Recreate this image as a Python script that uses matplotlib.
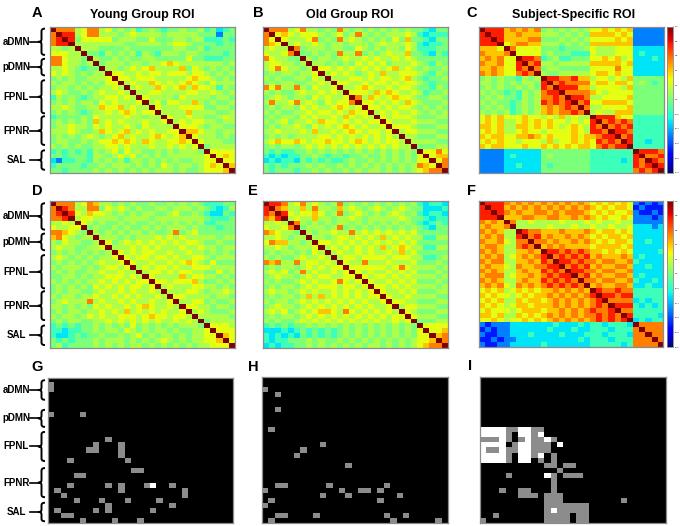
import numpy as np
import matplotlib
matplotlib.use("Agg")
import matplotlib.pyplot as plt
from matplotlib.colors import ListedColormap
from matplotlib.lines import Line2D

plt.rcParams['font.family'] = ['Liberation Sans', 'DejaVu Sans']

# correlation level codes (digit -> r value)
LEVELS = [-0.7, -0.5, -0.3, -0.15, 0.0, 0.12, 0.25, 0.4, 0.55, 0.75]
NETWORKS = ["aDMN", "pDMN", "FPNL", "FPNR", "SAL"]
TITLES = ["Young Group ROI", "Old Group ROI", "Subject-Specific ROI"]
LETTERS = list("ABCDEFGHI")
CBAR_TICKS = [-1, -0.8, -0.6, -0.4, -0.2, 0, 0.2, 0.4, 0.6, 0.8, 1]

# lower triangles (row i holds columns 0..i-1), groups separated by spaces
A_ROWS = [
    "8", "89", "899", "5545", "6665 5", "8865 54", "8865 54 5", "5565 43 44",
    "6565 45 455", "4545 44 5556", "5455 45 4546 6", "4554 54 5455 65",
    "5654 45 4565 565", "3545 43 4556 6565", "4545 45 5465 65556",
    "5565 44 5576 675655", "4545 43 4556 5676566", "3444 45 4655 55655455",
    "4545 45 4756 56555655 6", "4556 55 4656 55654655 55",
    "5556 54 4576 56756565 566", "4545 45 6545 67565567 6567",
    "4554 45 4566 76765765 56676", "5454 54 4556 65655565 565656",
    "3434 34 3545 64655445 4545554", "4434 44 3554 56564545 4555555 6",
    "2133 44 3545 45355454 5454455 66", "3444 43 4454 55545454 6545545 676",
    "4434 44 4545 45454545 5545445 6667",
]
B_ROWS = [
    "8", "86", "876", "5655", "6556 8", "8655 44", "5665 54 5", "5686 55 45",
    "4545 54 556", "5454 45 5465", "4545 54 4556 5", "8685 58 5465 56",
    "5454 45 6556 565", "4565 45 5465 6556", "5855 68 5654 65668",
    "4545 54 6565 567656", "5454 45 5656 6565766", "4545 54 6565 56576565",
    "5456 45 5657 66565656 6", "4545 56 5465 65676565 56",
    "5565 55 6575 56567656 656", "4545 45 5556 65656565 6565",
    "5676 67 6566 76656765 65665", "4545 54 5656 56565656 565655",
    "4343 34 4545 45454545 4545454", "3232 33 4454 34434454 4545454 6",
    "2323 32 4343 43345445 4545454 66", "4343 44 4545 44545454 5454545 876",
    "4344 43 4454 54454545 5454545 6788",
]
C_ROWS = [
    "9", "99", "999", "7776", "8777 8", "7878 66", "8778 66 9", "7787 66 98",
    "8787 66 898", "4545 44 3545", "5545 45 4554 9", "4545 44 5454 98",
    "5454 34 3545 899", "4545 44 3545 8898", "5454 43 4545 98989",
    "4545 43 4545 787898", "5454 53 4545 7878898", "6767 66 6766 56575655",
    "6767 55 6767 67665656 9", "7767 55 7767 67656765 98",
    "6767 55 6766 56666765 998", "7677 66 7787 67666767 7899",
    "6767 66 5666 57566767 69898", "7677 66 6766 76767677 689899",
    "1111 22 2222 44444444 3333333", "1111 23 2222 45444444 3333333 9",
    "1111 22 2222 44444444 3333323 98", "1111 22 3222 43444444 3333333 989",
    "1111 22 2222 44444444 3333333 8989",
]
D_ROWS = [
    "8", "89", "889", "5565", "6556 6", "8876 54", "7865 45 5", "5465 54 45",
    "5655 44 556", "4545 45 4545", "5654 54 5455 6", "4545 45 4565 56",
    "5455 54 5456 656", "4545 44 5565 5655", "4455 45 4556 66565",
    "5454 54 5565 656566", "4545 45 4656 5656656", "4545 54 4565 56565565",
    "5455 45 5655 65656556 5", "4565 55 8565 56565565 56",
    "5545 45 4656 55656765 565", "4545 54 5565 65756565 6556",
    "5455 45 6565 56665676 65665", "4545 54 4556 56565656 556565",
    "3434 34 4545 45464545 4545554", "3323 34 4545 54654545 5454455 6",
    "3223 43 4454 45456454 5545455 66", "4343 44 4545 55454545 6545455 667",
    "4534 44 4545 45455454 5454545 5666",
]
E_ROWS = [
    "9", "98", "879", "5565", "6556 8", "8765 54", "5565 45 5", "6877 55 45",
    "5565 45 556", "4545 54 5465", "5454 45 6556 5", "8785 58 5665 65",
    "4545 54 5656 566", "5656 45 8565 5656", "4565 54 5656 65566",
    "5454 45 6565 568656", "4545 54 5656 6656656", "5655 45 6565 56565656",
    "4545 54 5757 56565656 6", "5455 45 6565 65656565 56",
    "4565 54 5656 56565656 556", "5656 45 6567 76586565 6565",
    "4545 54 5656 56565656 56566", "5454 45 6565 65656565 655656",
    "3434 34 4545 45454545 4545454", "2223 23 4343 43454545 4545454 6",
    "3232 32 4343 43454545 4545454 66", "3233 44 4545 44545454 5454545 667",
    "2323 34 4545 45454545 5454545 6788",
]
F_ROWS = [
    "9", "99", "999", "8787", "7877 8", "8787 55", "7878 55 9", "8778 65 88",
    "7887 55 898", "8787 55 7787", "7878 56 7878 9", "8788 55 7787 98",
    "7877 65 8778 899", "8787 55 7877 9898", "7888 56 7787 89899",
    "8787 55 7877 989898", "7878 65 8787 8989898", "6767 56 7676 77878787",
    "7676 65 6767 78787878 9", "6767 55 7677 67878787 89",
    "7676 56 7767 77878787 898", "6766 65 6777 67787878 9889",
    "7767 55 7676 78787878 89898", "6676 56 6767 67878787 898989",
    "1011 12 2222 22322232 3323332", "0101 12 2222 23222322 3332333 8",
    "1001 12 2232 22232223 3323332 88", "0010 11 2222 22222232 3332333 888",
    "1001 12 2222 32222222 3333323 8888",
]

# significance maps (29 x 29): gray = 1, white = 2
G_GRAY = [(1, 0), (2, 0), (7, 0), (7, 5), (12, 9), (13, 7), (14, 6), (14, 7),
          (13, 11), (14, 11), (15, 11), (16, 3), (16, 12), (18, 13), (18, 14),
          (19, 4), (19, 5), (21, 3), (21, 9), (21, 11), (22, 11), (21, 15),
          (21, 19), (22, 1), (22, 21), (23, 21), (23, 2), (24, 4), (24, 8),
          (24, 12), (24, 17), (25, 9), (26, 9), (25, 19), (26, 1), (26, 7),
          (26, 16), (27, 2), (27, 3), (28, 5), (28, 10), (28, 14)]
G_WHITE = [(21, 16)]
H_GRAY = [(2, 0), (3, 2), (6, 2), (10, 1), (13, 9), (14, 6), (15, 5), (17, 13),
          (21, 2), (21, 3), (21, 10), (21, 19), (22, 0), (22, 12), (22, 15),
          (22, 16), (22, 18), (23, 9), (23, 13), (23, 21), (24, 1), (24, 18),
          (25, 0), (27, 2), (27, 3), (27, 8), (27, 19), (27, 22), (28, 1),
          (28, 20), (28, 27)]
H_WHITE = []
I_FIRST_ROW = 10
I_ROWS = [
    "2222112211", "2222102212", "111210121121", "2222012211102",
    "21121122111", "222210221201", "222210220101", "000000000011011",
    "0000000000001", "0000100000210111", "000000000001", "000000000001",
    "000100110001", "0000001110111", "00000000001110000000001",
    "00000000001111111", "00000000001211111", "00100000001111011",
    "10000000001111011",
]
N_SIG = 29


def corr_matrix(rows):
    n = len(rows) + 1
    m = np.eye(n)
    for i, s in enumerate(rows, start=1):
        s = s.replace(" ", "")
        if len(s) != i:
            raise ValueError(f"row {i}: {s}")
        for j, ch in enumerate(s):
            m[i, j] = m[j, i] = LEVELS[int(ch)]
    return m


def sig_from_lists(gray, white):
    m = np.zeros((N_SIG, N_SIG))
    for r, c in gray:
        m[r, c] = 1
    for r, c in white:
        m[r, c] = 2
    return m


def sig_from_rows(rows, first):
    m = np.zeros((N_SIG, N_SIG))
    for k, s in enumerate(rows):
        for j, ch in enumerate(s):
            m[first + k, j] = int(ch)
    return m


W, H = 680, 526
fig = plt.figure(figsize=(W / 100, H / 100), dpi=100)
fig.patch.set_facecolor("white")


def add_ax(box):
    x0, y0, x1, y1 = box
    return fig.add_axes([x0 / W, 1 - y1 / H, (x1 - x0) / W, (y1 - y0) / H])


FRAME = "#8c8c8c"


def style(ax):
    ax.set_xticks([])
    ax.set_yticks([])
    for s in ax.spines.values():
        s.set_color(FRAME)
        s.set_linewidth(0.9)


def quad(p0, p1, p2, n=8):
    t = np.linspace(0, 1, n)[:, None]
    p0, p1, p2 = map(np.asarray, (p0, p1, p2))
    return (1 - t) ** 2 * p0 + 2 * (1 - t) * t * p1 + t ** 2 * p2


def brackets(box, nrows, spans):
    """Curly braces with a left dash and a label, drawn in figure pixels."""
    _, y0, _, y1 = box
    ph = (y1 - y0) / nrows
    xv, xh, xc, r = 41.5, 45.0, 38.5, 2.6
    for name, (a, b) in zip(NETWORKS, spans):
        ya, yb = y0 + a * ph, y0 + b * ph
        ym = (ya + yb) / 2
        pts = np.vstack([
            quad((xh, ya), (xv, ya), (xv, ya + r)),
            quad((xv, ym - r), (xv, ym), (xc, ym)),
            quad((xc, ym), (xv, ym), (xv, ym + r)),
            quad((xv, yb - r), (xv, yb), (xh, yb)),
        ])
        fig.add_artist(Line2D(pts[:, 0] / W, 1 - pts[:, 1] / H,
                              transform=fig.transFigure, color="black",
                              lw=1.4, solid_capstyle="butt"))
        fig.add_artist(Line2D([29.5 / W, xc / W], [1 - ym / H, 1 - ym / H],
                              transform=fig.transFigure, color="black", lw=1.2))
        fig.text(16.5 / W, 1 - ym / H, name, ha="center", va="center",
                 fontsize=7, fontweight="bold")


corr_sets = [A_ROWS, B_ROWS, C_ROWS, D_ROWS, E_ROWS, F_ROWS]
corr_boxes = [(50, 26.7, 235, 172.7), (263.3, 26.7, 447.7, 172.7),
              (479, 26.7, 664, 172.7), (50, 201.3, 235, 348),
              (263.3, 201, 447.7, 347.7), (479, 201, 663, 347)]
cbar_boxes = {2: (667.3, 26.7, 673.3, 172.7), 5: (667.3, 201, 673.3, 347)}
spans_corr = [(0.4, 5.8), (6.6, 10.0), (11.0, 17.8), (18.4, 24.3), (25.4, 29.4)]

for k, (rows, box) in enumerate(zip(corr_sets, corr_boxes)):
    ax = add_ax(box)
    mat = corr_matrix(rows)
    im = ax.imshow(mat, cmap="jet", vmin=-1, vmax=1,
                   aspect="auto", interpolation="nearest")
    style(ax)
    if k in (0, 3):
        brackets(box, mat.shape[0], spans_corr)
    if k in cbar_boxes:
        cax = add_ax(cbar_boxes[k])
        cb = fig.colorbar(im, cax=cax, ticks=CBAR_TICKS)
        cb.ax.tick_params(labelsize=1.7, length=0.8, width=0.3, pad=0.3)
        cb.outline.set_edgecolor(FRAME)
        cb.outline.set_linewidth(0.6)

sig_cmap = ListedColormap(["black", "#8c8c8c", "white"])
sig_mats = [sig_from_lists(G_GRAY, G_WHITE), sig_from_lists(H_GRAY, H_WHITE),
            sig_from_rows(I_ROWS, I_FIRST_ROW)]
sig_boxes = [(48.3, 377.7, 233.3, 523.3), (262.3, 377.3, 448.3, 523.3),
             (480, 377.3, 665.7, 523.3)]
spans_sig = [(0.5, 4.4), (6.4, 9.8), (10.8, 16.6), (18.0, 23.8), (24.9, 28.6)]
for k, (m, box) in enumerate(zip(sig_mats, sig_boxes)):
    ax = add_ax(box)
    ax.imshow(m, cmap=sig_cmap, vmin=0, vmax=2, aspect="auto",
              interpolation="nearest")
    style(ax)
    if k == 0:
        brackets(box, N_SIG, spans_sig)

# titles
for t, cx in zip(TITLES, [142, 350, 574]):
    fig.text(cx / W, 1 - 15 / H, t, ha="center", va="center", fontsize=9,
             fontweight="bold")

letter_pos = [(37, 13), (258, 13), (472, 13), (37, 191), (253, 191),
              (472, 191), (37.5, 367), (253, 367), (470, 366)]
for L, (px, py) in zip(LETTERS, letter_pos):
    fig.text(px / W, 1 - py / H, L, ha="center", va="center", fontsize=10.5,
             fontweight="bold")

fig.savefig("out.png", dpi=100)
